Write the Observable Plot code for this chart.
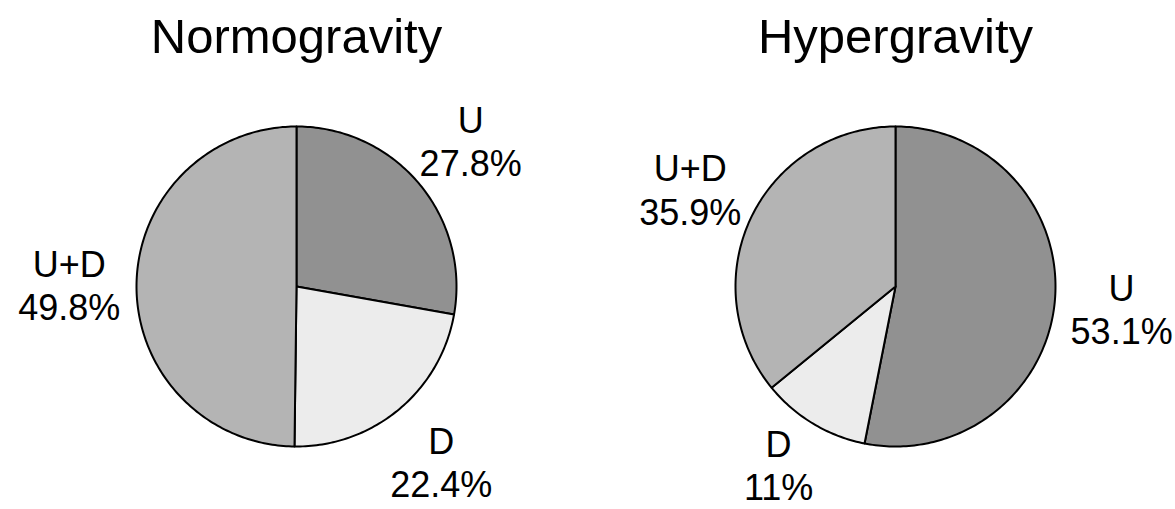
<!DOCTYPE html>
<html><head><meta charset="utf-8">
<script src="https://cdn.jsdelivr.net/npm/d3@7"></script>
<script src="https://cdn.jsdelivr.net/npm/@observablehq/plot@0.6"></script>
<style>html,body{margin:0;padding:0;background:#fff;} #chart{width:1175px;height:509px;}</style>
</head><body><div id="chart"></div>
<script>
// ---- data ----
const charts = ["Normogravity", "Hypergravity"];
const categories = ["U", "D", "U+D"];
const normogravity = [27.8, 22.4, 49.8];
const hypergravity = [53.1, 11, 35.9];
const sliceColors = ["#919191", "#ececec", "#b4b4b4"];

// ---- build slice outlines (unit circle, clockwise from 12 o'clock) ----
const seriesByChart = {Normogravity: normogravity, Hypergravity: hypergravity};
const W = 1175, H = 509;
const pxPerUnit = 160, centerY = 286;
const labelRadius = 1.42;
const labelFontSize = 36, labelLineHeight = 1.2;
// keep the two-line label block inside the frame
const labelHalfBlockPx = 45;
const yMinLabel = -(H - labelHalfBlockPx - centerY) / pxPerUnit;
const outline = [], labels = [];
for (const chart of charts) {
  const vals = seriesByChart[chart];
  const total = d3.sum(vals);
  let acc = 0;
  vals.forEach((v, i) => {
    const a0 = acc / total * 2 * Math.PI; acc += v; const a1 = acc / total * 2 * Math.PI;
    const key = chart + "|" + categories[i];
    const n = Math.max(2, Math.ceil((a1 - a0) / (Math.PI / 180)));
    outline.push({chart, key, color: sliceColors[i], x: 0, y: 0});
    for (let k = 0; k <= n; k++) {
      const a = a0 + (a1 - a0) * k / n;
      outline.push({chart, key, color: sliceColors[i], x: Math.sin(a), y: Math.cos(a)});
    }
    outline.push({chart, key, color: sliceColors[i], x: 0, y: 0});
    const am = (a0 + a1) / 2;
    labels.push({
      chart,
      x: labelRadius * Math.sin(am),
      y: Math.max(yMinLabel, labelRadius * Math.cos(am)),
      text: categories[i] + "\n" + v + "%"
    });
  });
}

const plot = Plot.plot({
  width: W, height: H,
  marginTop: 0, marginBottom: 0, marginLeft: 16, marginRight: 0,
  style: {fontFamily: "'Liberation Sans', Arial, sans-serif", background: "white", color: "black"},
  fx: {domain: charts, paddingInner: 39 / 599, paddingOuter: 0, axis: null, label: null},
  x: {domain: [-1.75, 1.75], axis: null},
  y: {domain: [-(H - centerY) / pxPerUnit, centerY / pxPerUnit], axis: null},
  color: {type: "identity"},
  marks: [
    Plot.line(outline, {fx: "chart", x: "x", y: "y", z: "key", fill: "color", stroke: "black",
      strokeWidth: 2, strokeLinejoin: "round", strokeLinecap: "round"}),
    Plot.text(labels, {fx: "chart", x: "x", y: "y", text: "text", fontSize: labelFontSize, lineHeight: labelLineHeight, fill: "black"}),
    Plot.text(charts, {fx: d => d, text: d => d, frameAnchor: "top", lineAnchor: "bottom", dy: 52, fontSize: 49, fill: "black"})
  ]
});
document.getElementById("chart").appendChild(plot);
</script>
</body></html>
